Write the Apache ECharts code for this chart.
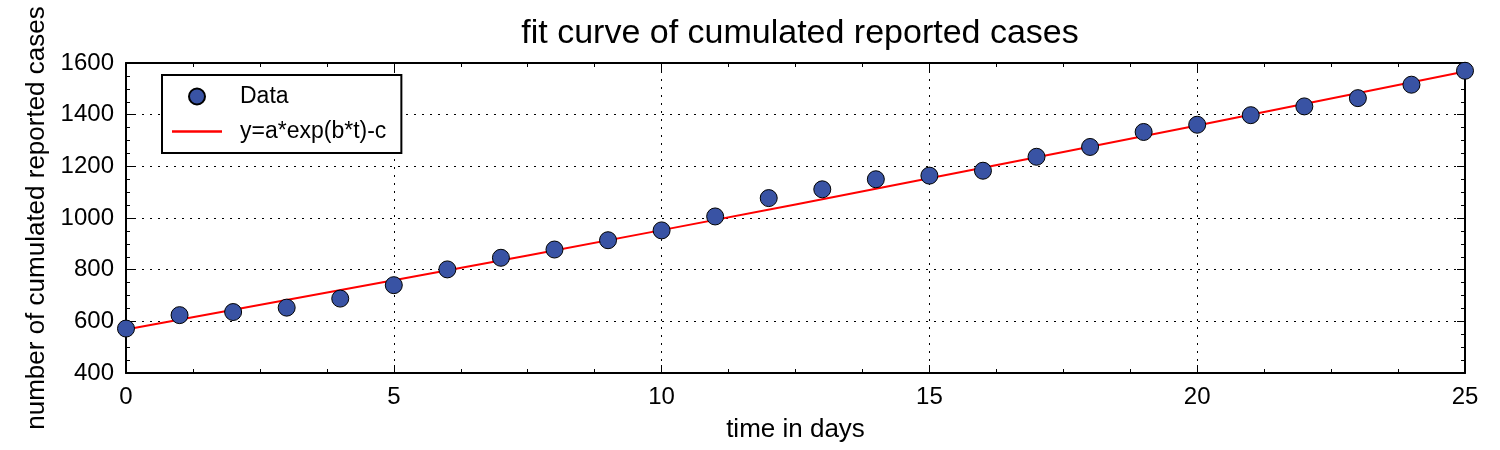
<!DOCTYPE html>
<html>
<head>
<meta charset="utf-8">
<script src="https://cdn.jsdelivr.net/npm/echarts@6/dist/echarts.min.js"></script>
<style>html,body{margin:0;padding:0;background:#fff}#c{width:1500px;height:450px}</style>
</head>
<body>
<div id="c"></div>
<script>
const days = [0,1,2,3,4,5,6,7,8,9,10,11,12,13,14,15,16,17,18,19,20,21,22,23,24,25];
const cases = [572,624,636,653,688,740,801,846,878,914,952,1006,1077,1111,1150,1164,1183,1237,1275,1333,1361,1398,1432,1464,1516,1570];
const fitDays = [0,5,10,15,20,25];
const fitValues = [568,759,953,1154,1358,1567];
const titleText = 'fit curve of cumulated reported cases';
const xName = 'time in days';
const yName = 'number of cumulated reported cases';
const dataLabel = 'Data';
const fitLabel = 'y=a*exp(b*t)-c';

const FONT = '"Liberation Sans", Arial, Helvetica, sans-serif';
const chart = echarts.init(document.getElementById('c'), null, {renderer:'canvas'});

const baseAxis = {
  axisLine:{show:true, onZero:false, lineStyle:{color:'#000', width:2}},
  axisTick:{show:true, inside:true, length:8, lineStyle:{color:'#000', width:1}},
  minorTick:{show:true, splitNumber:4, length:4, lineStyle:{color:'#000', width:1}},
};

chart.setOption({
  animation:false,
  backgroundColor:'#fff',
  title:{
    text:titleText, left:795, top:12, textAlign:'center',
    textStyle:{fontFamily:FONT, fontSize:34, fontWeight:'normal', color:'#000'}
  },
  legend:{
    orient:'vertical', left:162, top:75,
    borderColor:'#000', borderWidth:2, backgroundColor:'#fff',
    padding:[10,15,10,10], itemGap:12, itemWidth:50, itemHeight:16,
    symbolKeepAspect:true,
    textStyle:{fontFamily:FONT, fontSize:23, color:'#000', padding:[0,0,0,13]},
    data:[
      {name:dataLabel, icon:'circle'},
      {name:fitLabel, icon:'path://M0,0L50,0L50,2.4L0,2.4Z', itemStyle:{color:'#ff0000', borderWidth:0}}
    ]
  },
  grid:{left:126, right:35, top:63, bottom:77, show:false},
  xAxis:[
    Object.assign({}, baseAxis, {
      type:'value', min:0, max:25, interval:5, position:'bottom',
      name:xName, nameLocation:'middle', nameGap:44,
      nameTextStyle:{fontFamily:FONT, fontSize:26, color:'#000'},
      axisLabel:{fontFamily:FONT, fontSize:24, color:'#000', margin:12},
      splitLine:{show:true, lineStyle:{color:'#000', width:1, type:[2,6]}}
    }),
    Object.assign({}, baseAxis, {
      type:'value', min:0, max:25, interval:5, position:'top',
      axisLabel:{show:false}, splitLine:{show:false}
    })
  ],
  yAxis:[
    Object.assign({}, baseAxis, {
      type:'value', min:400, max:1600, interval:200, position:'left',
      name:yName, nameLocation:'middle', nameGap:76,
      nameTextStyle:{fontFamily:FONT, fontSize:26, color:'#000'},
      axisLabel:{fontFamily:FONT, fontSize:24, color:'#000', margin:12, formatter:v=>String(v)},
      splitLine:{show:true, lineStyle:{color:'#000', width:1, type:[2,6]}}
    }),
    Object.assign({}, baseAxis, {
      type:'value', min:400, max:1600, interval:200, position:'right',
      axisLabel:{show:false}, splitLine:{show:false}
    })
  ],
  series:[
    {
      name:fitLabel, type:'line', xAxisIndex:0, yAxisIndex:0,
      data:fitDays.map((d,i)=>[d, fitValues[i]]),
      symbol:'none', smooth:true,
      lineStyle:{color:'#ff0000', width:2}, itemStyle:{color:'#ff0000'}, z:3
    },
    {
      name:dataLabel, type:'scatter', xAxisIndex:0, yAxisIndex:0,
      data:days.map((d,i)=>[d, cases[i]]),
      symbol:'circle', symbolSize:17, clip:true,
      itemStyle:{color:'#3953a4', borderColor:'#000', borderWidth:1, opacity:1}, z:4
    }
  ]
});
</script>
</body>
</html>
